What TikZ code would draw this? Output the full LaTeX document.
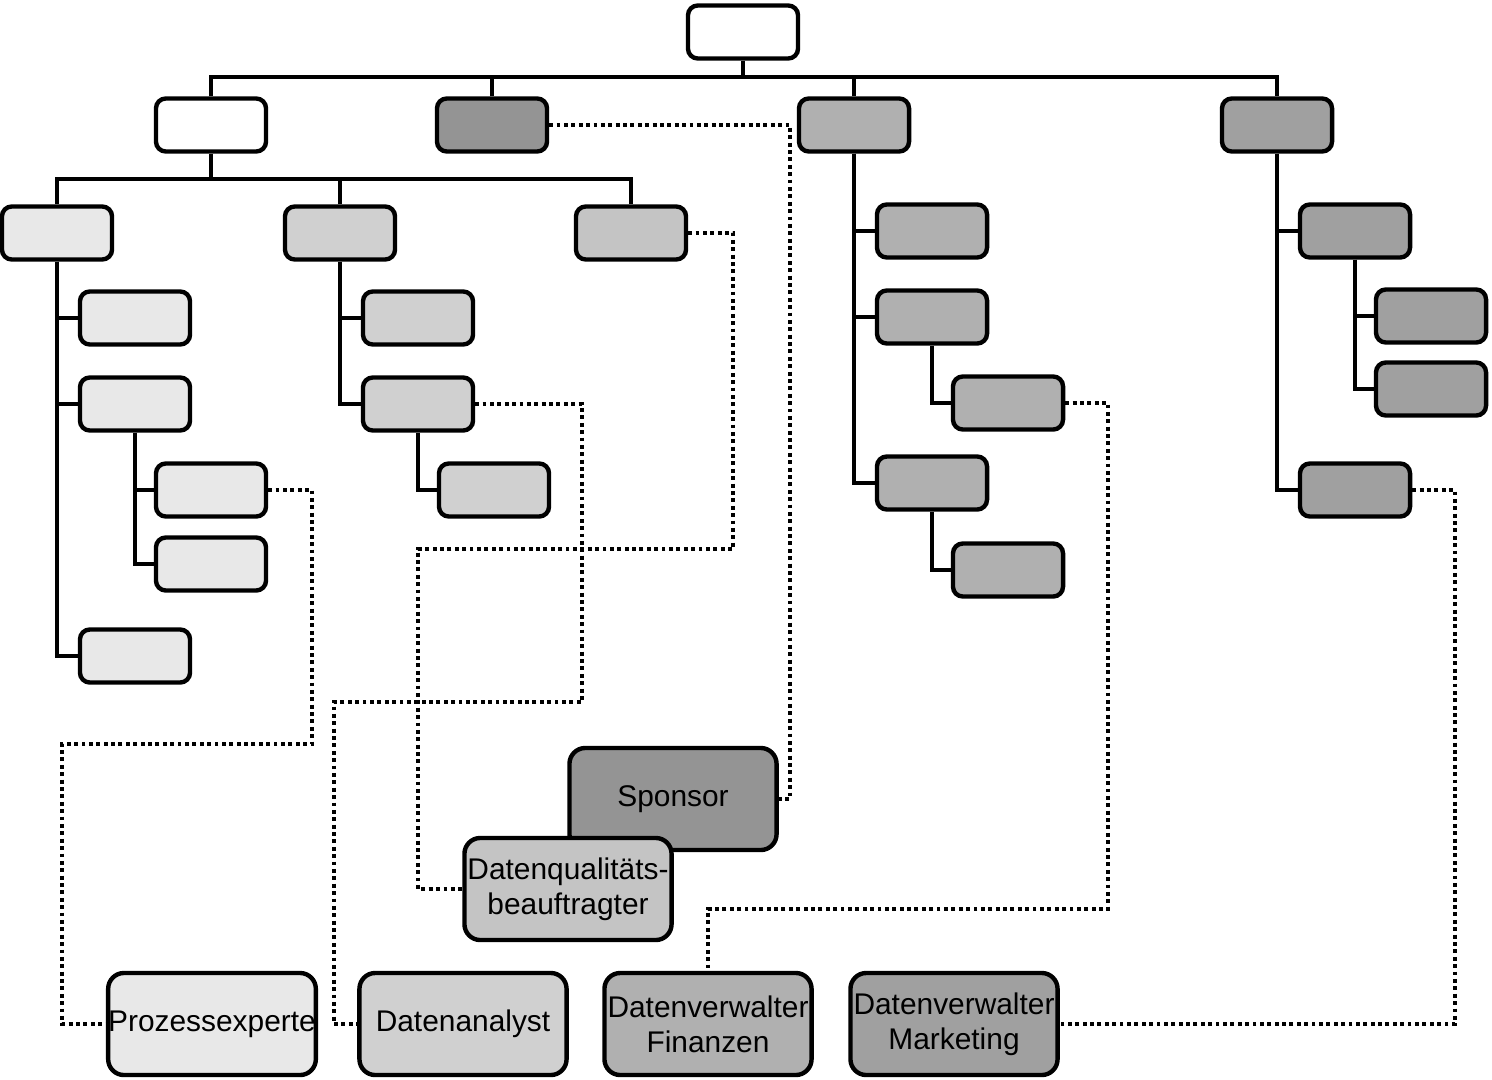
\documentclass[tikz,border=0pt]{standalone}
\usepackage{fontspec}
\setmainfont{Liberation Sans}
\usetikzlibrary{positioning}
\definecolor{grayA}{HTML}{E8E8E8}
\definecolor{grayB}{HTML}{D0D0D0}
\definecolor{grayC}{HTML}{C4C4C4}
\definecolor{graySp}{HTML}{949494}
\definecolor{grayFin}{HTML}{B0B0B0}
\definecolor{grayMk}{HTML}{A0A0A0}
\tikzset{
  orgbox/.style={draw, line width=1.25pt, rounded corners=2.8pt, minimum width=1.10cm, minimum height=0.53cm, inner sep=0pt},
  rolebox/.style={draw, line width=1.25pt, rounded corners=4.5pt, minimum width=2.07cm, minimum height=1.02cm, inner sep=0pt, align=center, font=\fontsize{8.5}{10}\selectfont},
  treeline/.style={line width=1pt},
  dotline/.style={line width=1.1pt, dash pattern=on 1.1pt off 1pt}
}
\begin{document}
\begin{tikzpicture}[x=0.01cm, y=-0.01cm]
\useasboundingbox (0,0) rectangle (1492,1079);

\node[orgbox, fill=white] (root) at (743,32) {};

\node[orgbox, fill=white] (A) at (211,125) {};
\node[orgbox, fill=graySp] (B) at (492,125) {};
\node[orgbox, fill=grayFin] (C) at (854,125) {};
\node[orgbox, fill=grayMk] (D) at (1277,125) {};

\node[orgbox, fill=grayA] (A1) at (57,233) {};
\node[orgbox, fill=grayB] (A2) at (340,233) {};
\node[orgbox, fill=grayC] (A3) at (631,233) {};

\node[orgbox, fill=grayA] (A1a) at (135,318) {};
\node[orgbox, fill=grayA] (A1b) at (135,404) {};
\node[orgbox, fill=grayA] (A1ba) at (211,490) {};
\node[orgbox, fill=grayA] (A1bb) at (211,564) {};
\node[orgbox, fill=grayA] (A1c) at (135,656) {};

\node[orgbox, fill=grayB] (A2a) at (418,318) {};
\node[orgbox, fill=grayB] (A2b) at (418,404) {};
\node[orgbox, fill=grayB] (A2ba) at (494,490) {};

\node[orgbox, fill=grayFin] (C1) at (932,231) {};
\node[orgbox, fill=grayFin] (C2) at (932,317) {};
\node[orgbox, fill=grayFin] (C2a) at (1008,403) {};
\node[orgbox, fill=grayFin] (C3) at (932,483) {};
\node[orgbox, fill=grayFin] (C3a) at (1008,570) {};

\node[orgbox, fill=grayMk] (D1) at (1355,231) {};
\node[orgbox, fill=grayMk] (D1a) at (1431,316) {};
\node[orgbox, fill=grayMk] (D1b) at (1431,389) {};
\node[orgbox, fill=grayMk] (D2) at (1355,490) {};

\coordinate (bus1) at (743,77);
\coordinate (bus2) at (211,179);

\draw[treeline] (root.south) -- (bus1);
\draw[treeline] (A.north) |- (bus1) -| (D.north);
\draw[treeline] (B.north) -- (B.north |- bus1);
\draw[treeline] (C.north) -- (C.north |- bus1);

\draw[treeline] (A.south) -- (bus2);
\draw[treeline] (A1.north) |- (bus2) -| (A3.north);
\draw[treeline] (A2.north) -- (A2.north |- bus2);

\draw[treeline] (A1.south) |- (A1a.west);
\draw[treeline] (A1.south) |- (A1b.west);
\draw[treeline] (A1.south) |- (A1c.west);
\draw[treeline] (A1b.south) |- (A1ba.west);
\draw[treeline] (A1b.south) |- (A1bb.west);

\draw[treeline] (A2.south) |- (A2a.west);
\draw[treeline] (A2.south) |- (A2b.west);
\draw[treeline] (A2b.south) |- (A2ba.west);

\draw[treeline] (C.south) |- (C1.west);
\draw[treeline] (C.south) |- (C2.west);
\draw[treeline] (C.south) |- (C3.west);
\draw[treeline] (C2.south) |- (C2a.west);
\draw[treeline] (C3.south) |- (C3a.west);

\draw[treeline] (D.south) |- (D1.west);
\draw[treeline] (D.south) |- (D2.west);
\draw[treeline] (D1.south) |- (D1a.west);
\draw[treeline] (D1.south) |- (D1b.west);

\node[rolebox, fill=graySp] (spon) at (673,799) {Sponsor};
\node[rolebox, fill=grayC] (dq) at (568,889) {Datenqualitäts-\\beauftragter};
\node[rolebox, fill=grayA] (proz) at (212,1024) {Prozessexperte};
\node[rolebox, fill=grayB] (anal) at (463,1024) {Datenanalyst};
\node[rolebox, fill=grayFin] (fin) at (708,1024) {Datenverwalter\\Finanzen};
\node[rolebox, fill=grayMk] (mark) at (954,1024) {Datenverwalter\\Marketing};

\coordinate (k1) at (790,799);
\coordinate (k2) at (733,549);
\coordinate (k3) at (418,889);
\coordinate (k4) at (312,744);
\coordinate (k5) at (62,1024);
\coordinate (k6) at (582,702);
\coordinate (k7) at (334,1024);
\coordinate (k8) at (1108,909);
\coordinate (k9) at (1455,1024);

\draw[dotline] (B.east) -| (k1) -- (spon.east);
\draw[dotline] (A3.east) -| (k2) -| (k3) -- (dq.west);
\draw[dotline] (A1ba.east) -| (k4) -| (k5) -- (proz.west);
\draw[dotline] (A2b.east) -| (k6) -| (k7) -- (anal.west);
\draw[dotline] (C2a.east) -| (k8) -| (fin.north);
\draw[dotline] (D2.east) -| (k9) -- (mark.east);

\end{tikzpicture}
\end{document}
